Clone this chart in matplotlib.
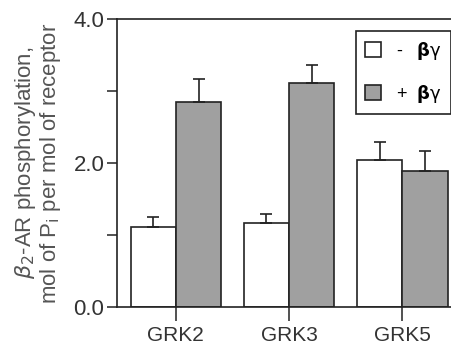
import matplotlib.pyplot as plt
import numpy as np

plt.rcParams['font.family'] = ['Liberation Sans', 'DejaVu Sans']

kinases = ['GRK2', 'GRK3', 'GRK5']
minus_bg = [1.11, 1.17, 2.04]
minus_err = [0.14, 0.12, 0.25]
plus_bg = [2.85, 3.11, 1.89]
plus_err = [0.32, 0.25, 0.28]

fig = plt.figure(figsize=(4.51, 3.54), dpi=100)
ax = fig.add_axes([117 / 451, 47 / 354, 1 - 117 / 451 + 0.01, 288 / 354])

x = np.arange(len(kinases))
w = 0.4
ekw = dict(ecolor='#222222', elinewidth=1.2, capthick=1.2)
ax.bar(x - w / 2, minus_bg, w, color='white', edgecolor='#222222', linewidth=1.2,
       yerr=[np.zeros(3), minus_err], capsize=4, error_kw=ekw,
       label='-   $\\mathbf{\\beta}\\mathrm{\\gamma}$')
ax.bar(x + w / 2, plus_bg, w, color='#a0a0a0', edgecolor='#222222', linewidth=1.2,
       yerr=[np.zeros(3), plus_err], capsize=4, error_kw=ekw,
       label='+  $\\mathbf{\\beta}\\mathrm{\\gamma}$')

ax.set_xlim(-0.52, 2.47)
ax.set_ylim(0, 4.0)
ax.set_yticks([0, 1, 2, 3, 4])
ax.set_yticklabels(['0.0', '', '2.0', '', '4.0'])
ax.set_xticks(x)
ax.set_xticklabels(kinases)
ax.tick_params(axis='y', direction='out', length=7, width=1.2, labelsize=16, colors='#333333', pad=2)
ax.tick_params(axis='x', direction='out', length=10, width=1.2, labelsize=15, colors='#333333', pad=4)
ax.spines['right'].set_visible(False)
for s in ['left', 'top', 'bottom']:
    ax.spines[s].set_linewidth(1.2)
    ax.spines[s].set_color('#222222')

ax.set_ylabel('$\\beta_2$-AR phosphorylation,\nmol of P$_\\mathrm{i}$ per mol of receptor',
              fontsize=16, color='#555555', labelpad=8, linespacing=1.0)

leg = ax.legend(loc='upper right', bbox_to_anchor=(1.012, 0.99), fontsize=13,
                frameon=True, fancybox=False, edgecolor='#222222', handlelength=0.9,
                handleheight=0.9, handletextpad=0.8, labelspacing=1.15, borderpad=0.5)
leg.get_frame().set_linewidth(1.2)
leg.get_frame().set_alpha(1)

fig.savefig('out.png', dpi=100)
